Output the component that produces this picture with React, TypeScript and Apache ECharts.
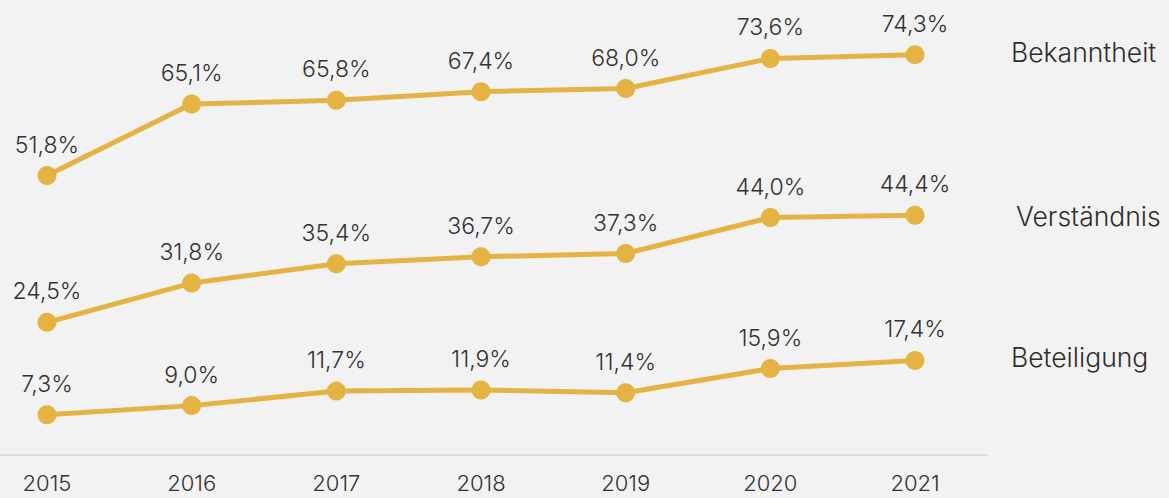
import React, { useEffect, useRef } from "react";
import * as echarts from "echarts";

const years = ["2015", "2016", "2017", "2018", "2019", "2020", "2021"];
const bekanntheit = [51.8, 65.1, 65.8, 67.4, 68.0, 73.6, 74.3];
const verstaendnis = [24.5, 31.8, 35.4, 36.7, 37.3, 44.0, 44.4];
const beteiligung = [7.3, 9.0, 11.7, 11.9, 11.4, 15.9, 17.4];
const seriesNames = ["Bekanntheit", "Verständnis", "Beteiligung"];

const FONT = "Inter, 'Noto Sans', sans-serif";
const GOLD = "#e5b344";

export default function App() {
  const ref = useRef<HTMLDivElement>(null);
  useEffect(() => {
    if (!ref.current) return;
    const chart = echarts.init(ref.current, undefined, { renderer: "svg" });
    const mk = (name: string, data: number[], endOffset: [number, number]) => ({
      name,
      type: "line",
      data,
      symbol: "circle",
      symbolSize: 19,
      lineStyle: { color: GOLD, width: 5 },
      itemStyle: { color: GOLD },
      label: {
        show: true,
        position: "top",
        distance: 10,
        formatter: (p: any) => p.value.toFixed(1).replace(".", ",") + "%",
        fontFamily: FONT,
        fontWeight: 300,
        fontSize: 23,
        color: "#333",
      },
      endLabel: {
        show: true,
        formatter: name,
        fontFamily: FONT,
        fontWeight: 300,
        fontSize: 26.5,
        color: "#2e2e2e",
        distance: 0,
        offset: endOffset,
      },
    });
    chart.setOption({
      animation: false,
      backgroundColor: "#f2f2f2",
      grid: { left: 47, right: 254, top: 24, bottom: 44 },
      xAxis: {
        type: "category",
        data: years,
        boundaryGap: false,
        axisLine: { show: false },
        axisTick: { show: false },
        axisLabel: {
          fontFamily: FONT,
          fontWeight: 300,
          fontSize: 22,
          lineHeight: 22,
          color: "#333",
          margin: 18,
        },
      },
      yAxis: { type: "value", min: 0, max: 80, show: false, splitLine: { show: false } },
      graphic: [
        {
          type: "line",
          shape: { x1: 0, y1: 455, x2: 988, y2: 455 },
          style: { stroke: "#dcdcdc", lineWidth: 2 },
          z: -1,
        },
      ],
      series: [
        mk(seriesNames[0], bekanntheit, [96, -3]),
        mk(seriesNames[1], verstaendnis, [101, 1]),
        mk(seriesNames[2], beteiligung, [96, -3]),
      ],
    });
    return () => chart.dispose();
  }, []);
  return (
    <div
      ref={ref}
      style={{ position: "absolute", left: 0, top: 0, width: 1169, height: 498 }}
    />
  );
}
